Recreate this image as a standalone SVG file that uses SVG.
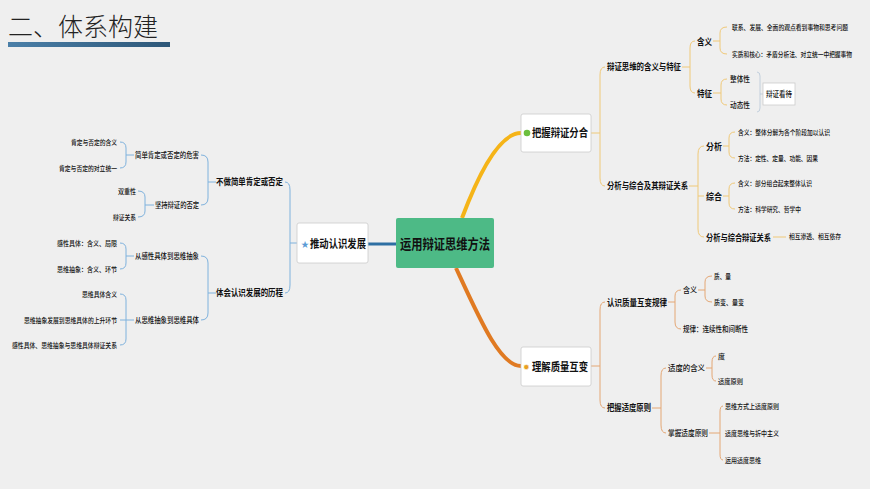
<svg xmlns="http://www.w3.org/2000/svg" width="870" height="489" viewBox="0 0 870 489">
<defs>
<linearGradient id="bar" x1="0" x2="1"><stop offset="0" stop-color="#4a7fa8"/><stop offset="1" stop-color="#2d5778"/></linearGradient>
<style>
text{font-family:"Noto Sans CJK SC","Noto Sans",sans-serif;fill:#111}
.s{font-size:7.5px;font-weight:500}
.t{font-size:7px;font-weight:500}
.m{font-size:9px;font-weight:700}
.r{text-anchor:end}
.b{fill:none;stroke:#7fb2dd;stroke-width:1}
.y{fill:none;stroke:#efc978;stroke-width:1}
.o{fill:none;stroke:#e4a775;stroke-width:1}
.box{fill:#fff;stroke:#ccc;stroke-width:0.8}
</style>
</defs>
<rect width="870" height="489" fill="#efefef"/>
<text x="8" y="36" style="font-family:'Noto Sans CJK SC',sans-serif;font-size:25px;font-weight:300;fill:#222">二、体系构建</text>
<rect x="8" y="42" width="162" height="5" fill="url(#bar)"/>
<g id="connectors">
<path d="M368 244 H396" stroke="#2e6fa3" stroke-width="3" fill="none"/>
<path d="M462 218 C480 170 500 133 521 133" stroke="#f5b418" stroke-width="4" fill="none"/>
<path d="M456 268 C480 320 500 366 521 366" stroke="#e07a22" stroke-width="4" fill="none"/>
<path class="b" d="M297 243 H290 M285 182 Q290 182 290 190 V285 Q290 293 285 293"/>
<path class="b" d="M216 182 H208 M201 155 Q208 155 208 162 V198 Q208 205 201 205"/>
<path class="b" d="M134 155 H126 M120 142 Q126 142 126 148 V162 Q126 168 120 168"/>
<path class="b" d="M154 205 H145 M138 191 Q145 191 145 197 V211 Q145 217 138 217"/>
<path class="b" d="M216 293 H208 M201 256 Q208 256 208 263 V313 Q208 320 201 320"/>
<path class="b" d="M134 256 H126 M120 243 Q126 243 126 249 V263 Q126 269 120 269"/>
<path class="b" d="M134 320 H120 M120 294 Q126 294 126 300 V339 Q126 345 120 345"/>
<path class="y" d="M591 133 H600 M605 67 Q600 67 600 75 V178 Q600 186 605 186"/>
<path class="y" d="M682 67 H690 M695 41 Q690 41 690 48 V86 Q690 93 695 93"/>
<path class="y" d="M713 41 H720 M727 27 Q720 27 720 33 V48 Q720 54 727 54"/>
<path class="y" d="M713 93 H721 M727 79 Q721 79 721 85 V99 Q721 105 727 105"/>
<path d="M757 72 Q760 72 760 76 V108 Q760 112 757 112 M760 94 H763" fill="none" stroke="#b8c8d8" stroke-width="0.8"/>
<path class="y" d="M689 186 H698 M704 146 Q698 146 698 154 V229 Q698 237 704 237 M698 196 H704"/>
<path class="y" d="M723 146 H729 M735 132 Q729 132 729 138 V152 Q729 158 735 158"/>
<path class="y" d="M723 196 H729 M735 183 Q729 183 729 189 V203 Q729 209 735 209"/>
<path class="y" d="M773 237 H786"/>
<path class="o" d="M591 366 H600 M605 302 Q600 302 600 310 V400 Q600 408 605 408"/>
<path class="o" d="M668 302 H675 M681 290 Q675 290 675 296 V322 Q675 329 681 329"/>
<path class="o" d="M698 290 H705 M712 276 Q705 276 705 282 V296 Q705 302 712 302"/>
<path class="o" d="M652 408 H661 M666 368 Q661 368 661 376 V425 Q661 433 666 433"/>
<path class="o" d="M706 368 H712 M716 356 Q712 356 712 362 V375 Q712 381 716 381"/>
<path class="o" d="M709 433 H720 M723 406 Q720 406 720 412 V454 Q720 460 723 460"/>
</g>
<g id="center"><rect x="396" y="218" width="98" height="50" rx="2" fill="#4dba86"/><text x="400" y="249" textLength="90" lengthAdjust="spacingAndGlyphs" style="font-size:14px;font-weight:700">运用辩证思维方法</text></g>
<g id="left-main"><rect x="297" y="223" width="71" height="40" rx="2" class="box" stroke="#b0c8e0"/><text x="301" y="247" style="font-size:8px;fill:#5b9bd5">★</text><text x="310" y="248" textLength="56" lengthAdjust="spacingAndGlyphs" style="font-size:11px;font-weight:700">推动认识发展</text></g>
<g id="rt-main"><rect x="521" y="114" width="70" height="38" rx="2" class="box"/><circle cx="527" cy="133" r="3.3" fill="#6cbf3e"/><text x="532" y="137" textLength="56" lengthAdjust="spacingAndGlyphs" style="font-size:11px;font-weight:700">把握辩证分合</text></g>
<g id="rb-main"><rect x="521" y="347" width="70" height="39" rx="2" class="box"/><text x="523" y="370" style="font-size:8px;fill:#e8a020">✹</text><text x="532" y="371" textLength="56" lengthAdjust="spacingAndGlyphs" style="font-size:11px;font-weight:700">理解质量互变</text></g>
<g id="left-nodes">
<text class="m r" x="283" y="185" textLength="67" lengthAdjust="spacingAndGlyphs">不做简单肯定或否定</text>
<text class="m r" x="283" y="296" textLength="67" lengthAdjust="spacingAndGlyphs">体会认识发展的历程</text>
<text class="s r" x="199" y="158" textLength="64" lengthAdjust="spacingAndGlyphs">简单肯定或否定的危害</text>
<text class="s r" x="199" y="208" textLength="44" lengthAdjust="spacingAndGlyphs">坚持辩证的否定</text>
<text class="t r" x="117" y="145" textLength="46" lengthAdjust="spacingAndGlyphs">肯定与否定的含义</text>
<text class="t r" x="117" y="171" textLength="58" lengthAdjust="spacingAndGlyphs">肯定与否定的对立统一</text>
<text class="t r" x="136" y="194" textLength="18" lengthAdjust="spacingAndGlyphs">双重性</text>
<text class="t r" x="136" y="220" textLength="23" lengthAdjust="spacingAndGlyphs">辩证关系</text>
<text class="s r" x="199" y="259" textLength="64" lengthAdjust="spacingAndGlyphs">从感性具体到思维抽象</text>
<text class="s r" x="199" y="323" textLength="64" lengthAdjust="spacingAndGlyphs">从思维抽象到思维具体</text>
<text class="t r" x="117" y="246" textLength="60" lengthAdjust="spacingAndGlyphs">感性具体：含义、局限</text>
<text class="t r" x="117" y="272" textLength="60" lengthAdjust="spacingAndGlyphs">思维抽象：含义、环节</text>
<text class="t r" x="117" y="297" textLength="35" lengthAdjust="spacingAndGlyphs">思维具体含义</text>
<text class="t r" x="117" y="323" textLength="93" lengthAdjust="spacingAndGlyphs">思维抽象发展到思维具体的上升环节</text>
<text class="t r" x="117" y="348" textLength="105" lengthAdjust="spacingAndGlyphs">感性具体、思维抽象与思维具体辩证关系</text>
</g>
<g id="rt-nodes">
<text class="m" x="607" y="70" textLength="74" lengthAdjust="spacingAndGlyphs">辩证思维的含义与特征</text>
<text class="m" x="607" y="189" textLength="81" lengthAdjust="spacingAndGlyphs">分析与综合及其辩证关系</text>
<text class="m" x="697" y="45" textLength="15" lengthAdjust="spacingAndGlyphs">含义</text>
<text class="m" x="697" y="97" textLength="15" lengthAdjust="spacingAndGlyphs">特征</text>
<text class="t" x="732" y="30" textLength="116" lengthAdjust="spacingAndGlyphs">联系、发展、全面的观点看到事物和思考问题</text>
<text class="t" x="732" y="57" textLength="120" lengthAdjust="spacingAndGlyphs">实质和核心：矛盾分析法、对立统一中把握事物</text>
<text class="s" x="730" y="82" textLength="20" lengthAdjust="spacingAndGlyphs">整体性</text>
<text class="s" x="730" y="108" textLength="20" lengthAdjust="spacingAndGlyphs">动态性</text>
<g id="kandai"><rect x="763" y="83" width="32" height="22" class="box"/><text class="s" x="766" y="97" textLength="26" lengthAdjust="spacingAndGlyphs">辩证看待</text></g>
<text class="m" x="706" y="150" textLength="16" lengthAdjust="spacingAndGlyphs">分析</text>
<text class="m" x="706" y="200" textLength="16" lengthAdjust="spacingAndGlyphs">综合</text>
<text class="m" x="706" y="241" textLength="65" lengthAdjust="spacingAndGlyphs">分析与综合辩证关系</text>
<text class="t" x="738" y="135" textLength="92" lengthAdjust="spacingAndGlyphs">含义：整体分解为各个阶段加以认识</text>
<text class="t" x="738" y="161" textLength="80" lengthAdjust="spacingAndGlyphs">方法：定性、定量、功能、因果</text>
<text class="t" x="738" y="186" textLength="74" lengthAdjust="spacingAndGlyphs">含义：部分组合起来整体认识</text>
<text class="t" x="738" y="212" textLength="63" lengthAdjust="spacingAndGlyphs">方法：科学研究、哲学中</text>
<text class="t" x="789" y="239" textLength="52" lengthAdjust="spacingAndGlyphs">相互渗透、相互依存</text>
</g>
<g id="rb-nodes">
<text class="m" x="607" y="306" textLength="60" lengthAdjust="spacingAndGlyphs">认识质量互变规律</text>
<text class="m" x="607" y="411" textLength="44" lengthAdjust="spacingAndGlyphs">把握适度原则</text>
<text class="s" x="683" y="293" textLength="14" lengthAdjust="spacingAndGlyphs">含义</text>
<text class="s" x="683" y="332" textLength="65" lengthAdjust="spacingAndGlyphs">规律：连续性和间断性</text>
<text class="t" x="714" y="279" textLength="17" lengthAdjust="spacingAndGlyphs">质、量</text>
<text class="t" x="714" y="305" textLength="30" lengthAdjust="spacingAndGlyphs">质变、量变</text>
<text class="s" x="668" y="371" textLength="37" lengthAdjust="spacingAndGlyphs">适度的含义</text>
<text class="s" x="668" y="436" textLength="40" lengthAdjust="spacingAndGlyphs">掌握适度原则</text>
<text class="t" x="718" y="359">度</text>
<text class="t" x="718" y="384" textLength="25" lengthAdjust="spacingAndGlyphs">适度原则</text>
<text class="t" x="725" y="409" textLength="54" lengthAdjust="spacingAndGlyphs">思维方式上适度原则</text>
<text class="t" x="725" y="436" textLength="54" lengthAdjust="spacingAndGlyphs">适度思维与折中主义</text>
<text class="t" x="725" y="463" textLength="36" lengthAdjust="spacingAndGlyphs">运用适度思维</text>
</g>
</svg>
